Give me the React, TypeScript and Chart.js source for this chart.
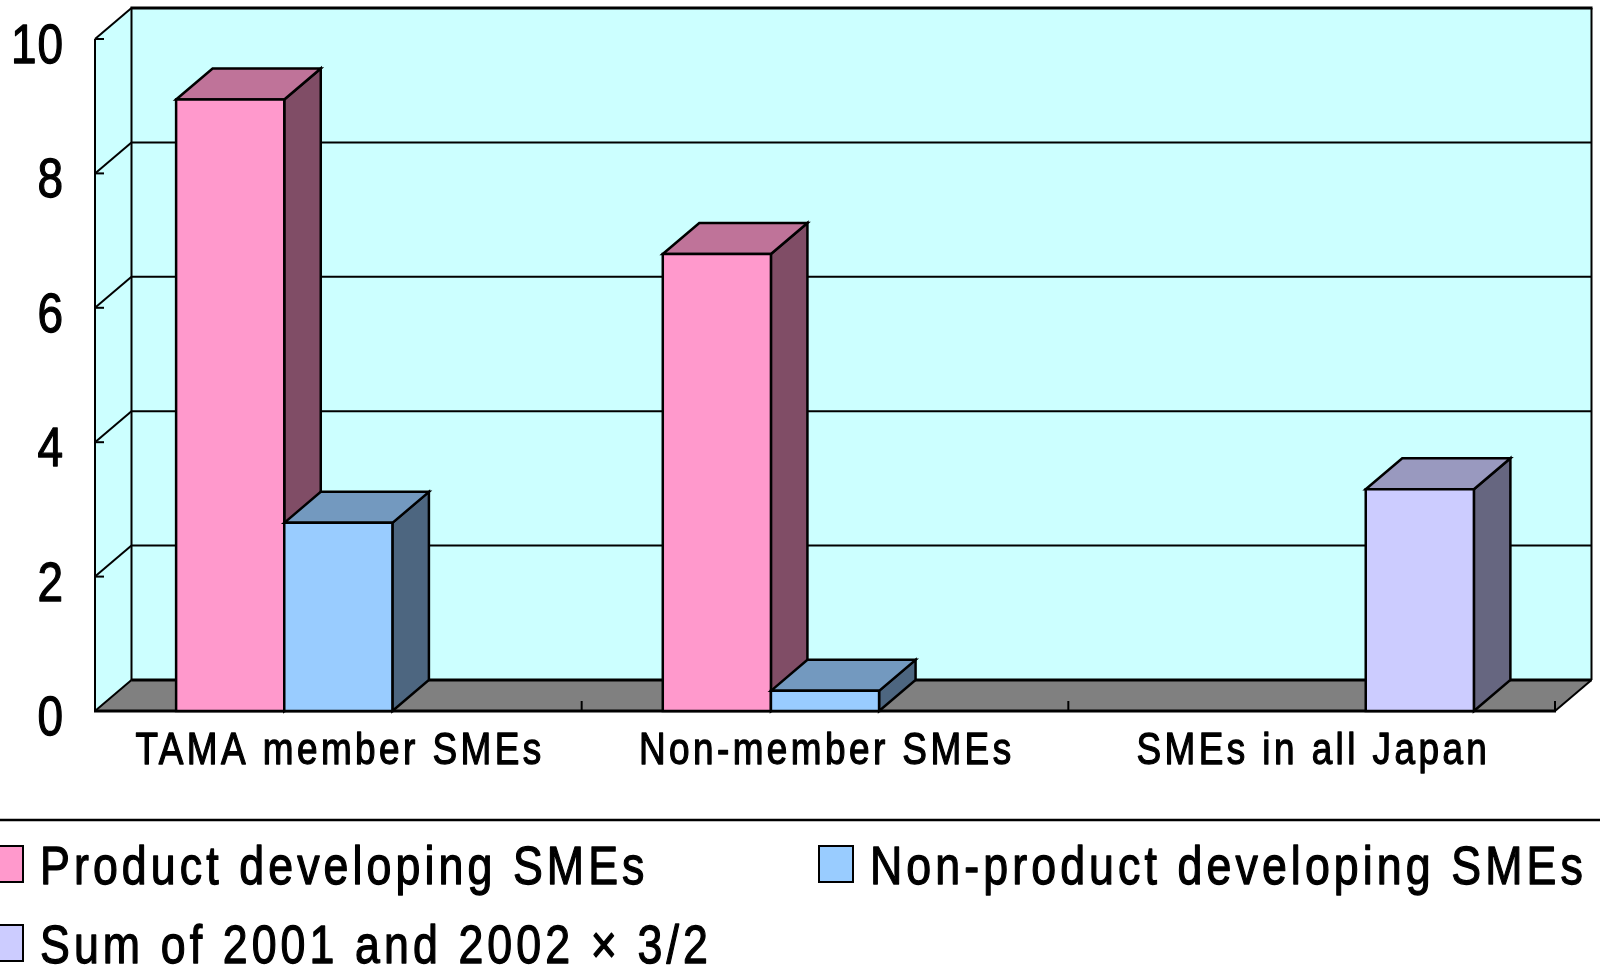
import React, { useEffect, useRef } from 'react';
import { Chart, registerables } from 'chart.js';

Chart.register(...registerables);

// ---- data ----
const categories = ['TAMA member SMEs', 'Non-member SMEs', 'SMEs in all Japan'];
const productDeveloping = [9.1, 6.8, null];
const nonProductDeveloping = [2.8, 0.3, null];
const sumAllJapan = [null, null, 3.3];
const seriesLabels = ['Product developing SMEs', 'Non-product developing SMEs', 'Sum of 2001 and 2002 \u00d7 3/2'];
const seriesColors = ['#FF99CC', '#99CCFF', '#CCCCFF'];
const yMin = 0;
const yMax = 10;
const yStep = 2;

const FONT = '"Liberation Sans", Arial, sans-serif';
const SX = 0.82; // horizontal condensing of text
const DX = 36.5;
const DY = 31;

function shade(hex: string, f: number): string {
  const n = parseInt(hex.slice(1), 16);
  const r = Math.round(((n >> 16) & 255) * f);
  const g = Math.round(((n >> 8) & 255) * f);
  const b = Math.round((n & 255) * f);
  return `rgb(${r},${g},${b})`;
}

function poly(ctx: CanvasRenderingContext2D, pts: number[][], fill?: string) {
  ctx.beginPath();
  ctx.moveTo(pts[0][0], pts[0][1]);
  for (let i = 1; i < pts.length; i++) ctx.lineTo(pts[i][0], pts[i][1]);
  ctx.closePath();
  if (fill) {
    ctx.fillStyle = fill;
    ctx.fill();
  }
  ctx.stroke();
}

function line(ctx: CanvasRenderingContext2D, x1: number, y1: number, x2: number, y2: number) {
  ctx.beginPath();
  ctx.moveTo(x1, y1);
  ctx.lineTo(x2, y2);
  ctx.stroke();
}

function drawText(
  ctx: CanvasRenderingContext2D,
  text: string,
  x: number,
  y: number,
  size: number,
  align: 'left' | 'center' | 'right',
  spacing: number
) {
  ctx.save();
  ctx.font = `${size}px ${FONT}`;
  (ctx as any).letterSpacing = '0px';
  ctx.textBaseline = 'alphabetic';
  ctx.textAlign = 'left';
  const w = (ctx.measureText(text).width + spacing * (text.length - 1)) * SX;
  const sx = align === 'left' ? x : align === 'right' ? x - w : x - w / 2;
  (ctx as any).letterSpacing = `${spacing}px`;
  ctx.translate(sx, y);
  ctx.scale(SX, 1);
  ctx.fillStyle = '#000';
  ctx.strokeStyle = '#000';
  ctx.lineWidth = 1.3;
  ctx.lineJoin = 'round';
  ctx.fillText(text, 0, 0);
  ctx.strokeText(text, 0, 0);
  ctx.restore();
}

const box3d = {
  id: 'box3d',
  beforeDatasetsDraw(chart: any) {
    const ctx: CanvasRenderingContext2D = chart.ctx;
    const { left: L, right: R, top: T, bottom: B } = chart.chartArea;
    const xs = chart.scales.x;
    const ys = chart.scales.y;
    ctx.save();
    ctx.lineJoin = 'miter';
    ctx.strokeStyle = '#000';
    ctx.lineWidth = 2;

    // walls
    ctx.fillStyle = '#CCFFFF';
    ctx.fillRect(L + DX, T - DY, R - L, B - T);
    ctx.beginPath();
    ctx.moveTo(L, T);
    ctx.lineTo(L + DX, T - DY);
    ctx.lineTo(L + DX, B - DY);
    ctx.lineTo(L, B);
    ctx.closePath();
    ctx.fill();
    // floor
    ctx.beginPath();
    ctx.moveTo(L, B);
    ctx.lineTo(R, B);
    ctx.lineTo(R + DX, B - DY);
    ctx.lineTo(L + DX, B - DY);
    ctx.closePath();
    ctx.fillStyle = '#808080';
    ctx.fill();

    // grid lines + side diagonals + tick marks + tick labels
    ys.ticks.forEach((t: any) => {
      const yy = ys.getPixelForValue(t.value);
      ctx.lineWidth = t.value === yMin ? 3 : 2;
      line(ctx, L + DX, yy - DY, R + DX, yy - DY);
      ctx.lineWidth = 2;
      line(ctx, L, yy, L + DX, yy - DY);
      line(ctx, L, yy, L + 9, yy);
      drawText(ctx, String(t.label), L - 32, yy + 24, 56, 'right', 1);
    });
    ctx.lineWidth = 2;
    line(ctx, L + DX, T - DY, L + DX, B - DY);
    line(ctx, R + DX, T - DY, R + DX, B - DY);
    ctx.lineWidth = 3;
    line(ctx, L + DX - 1, T - DY, R + DX + 1, T - DY);
    ctx.lineWidth = 2;
    line(ctx, L, T, L, B);
    ctx.lineWidth = 3;
    line(ctx, L - 1, B, R + 1, B);
    ctx.lineWidth = 2;
    line(ctx, R, B, R + DX, B - DY);

    // category boundary ticks + category labels
    const labels: string[] = xs.getLabels();
    const n = labels.length;
    for (let k = 1; k <= n; k++) {
      const bx = k < n ? (xs.getPixelForTick(k - 1) + xs.getPixelForTick(k)) / 2 : R;
      line(ctx, bx, B, bx, B - 10);
    }
    labels.forEach((lab, j) => {
      drawText(ctx, lab, xs.getPixelForTick(j), B + 53, 45, 'center', 4.2);
    });

    // bars (3D boxes)
    for (let j = 0; j < n; j++) {
      chart.data.datasets.forEach((ds: any, i: number) => {
        if (ds.data[j] === null || ds.data[j] === undefined) return;
        const el = chart.getDatasetMeta(i).data[j];
        const p = el.getProps(['x', 'y', 'base', 'width'], true);
        const x0 = p.x - p.width / 2;
        const x1 = p.x + p.width / 2;
        const col = ds.backgroundColor as string;
        ctx.lineWidth = 2.5;
        poly(ctx, [[x1, p.y], [x1 + DX, p.y - DY], [x1 + DX, p.base - DY], [x1, p.base]], shade(col, 0.5));
        poly(ctx, [[x0, p.y], [x0 + DX, p.y - DY], [x1 + DX, p.y - DY], [x1, p.y]], shade(col, 0.75));
        poly(ctx, [[x0, p.y], [x1, p.y], [x1, p.base], [x0, p.base]], col);
      });
    }
    ctx.restore();
    return false;
  },
  afterDraw(chart: any) {
    const ctx: CanvasRenderingContext2D = chart.ctx;
    ctx.save();
    ctx.strokeStyle = '#000';
    ctx.lineWidth = 2.5;
    line(ctx, 0, 820, chart.width, 820);
    const slots = [
      [-11, 846],
      [819, 846],
      [-11, 925],
    ];
    chart.data.datasets.forEach((ds: any, i: number) => {
      const [bx, by] = slots[i];
      ctx.fillStyle = ds.backgroundColor;
      ctx.fillRect(bx, by, 34, 36);
      ctx.lineWidth = 2;
      ctx.strokeRect(bx, by, 34, 36);
      drawText(ctx, ds.label, bx + 51, by + 38, 54.5, 'left', 5);
    });
    ctx.restore();
  },
};

export default function App() {
  const ref = useRef<HTMLCanvasElement | null>(null);
  useEffect(() => {
    document.body.style.margin = '0';
    const canvas = ref.current!;
    const chart = new Chart(canvas, {
      type: 'bar',
      data: {
        labels: categories,
        datasets: [
          { label: seriesLabels[0], data: productDeveloping, backgroundColor: seriesColors[0], borderColor: '#000', borderWidth: 2 },
          { label: seriesLabels[1], data: nonProductDeveloping, backgroundColor: seriesColors[1], borderColor: '#000', borderWidth: 2 },
          { label: seriesLabels[2], data: sumAllJapan, backgroundColor: seriesColors[2], borderColor: '#000', borderWidth: 2 },
        ],
      },
      options: {
        responsive: false,
        animation: false,
        devicePixelRatio: 1,
        layout: { padding: { left: 0, right: 45, top: 39, bottom: 0 } },
        datasets: { bar: { categoryPercentage: 2 / 3, barPercentage: 1 } },
        plugins: { legend: { display: false }, tooltip: { enabled: false } },
        scales: {
          x: {
            grid: { display: false, drawTicks: false },
            border: { display: false },
            ticks: { display: false, autoSkip: false, maxRotation: 0 },
            afterFit: (s: any) => {
              s.height = 268;
              s.paddingLeft = 0;
              s.paddingRight = 0;
              s.paddingTop = 0;
              s.paddingBottom = 0;
            },
          },
          y: {
            min: yMin,
            max: yMax,
            grid: { display: false, drawTicks: false },
            border: { display: false },
            ticks: { display: false, stepSize: yStep },
            afterFit: (s: any) => {
              s.width = 95;
              s.paddingLeft = 0;
              s.paddingRight = 0;
              s.paddingTop = 0;
              s.paddingBottom = 0;
            },
          },
        },
      },
      plugins: [box3d],
    });
    return () => chart.destroy();
  }, []);
  return (
    <div style={{ width: 1600, height: 979 }}>
      <canvas ref={ref} width={1600} height={979} style={{ display: 'block' }} />
    </div>
  );
}
